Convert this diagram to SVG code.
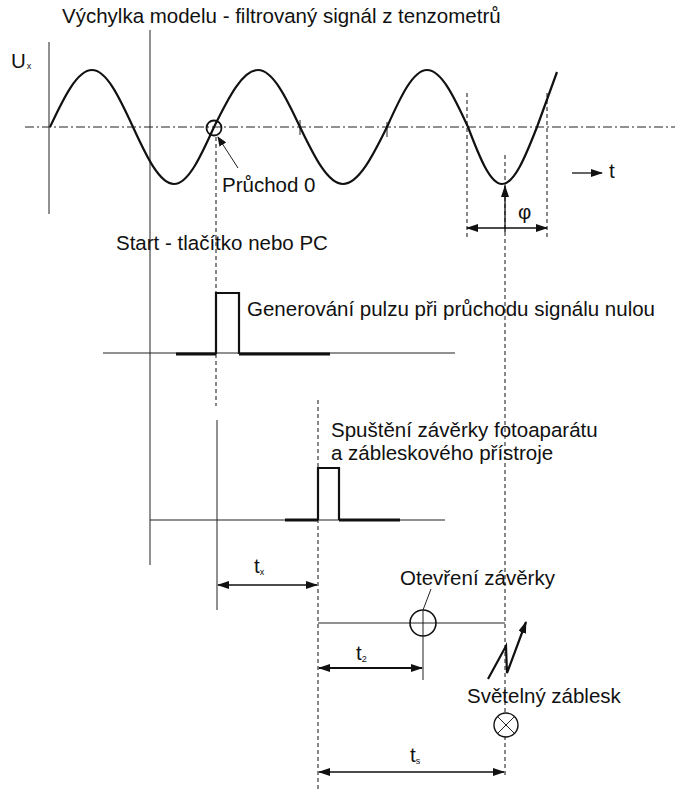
<svg xmlns="http://www.w3.org/2000/svg" width="675" height="790" viewBox="0 0 675 790">
<style>
text{font-family:"Liberation Sans",Arial,sans-serif;font-size:20.5px;fill:#111}
.sub{font-size:9px}
.thin{stroke:#222;stroke-width:1;fill:none}
.axis{stroke:#555;stroke-width:1.3;fill:none}
.dash{stroke:#111;stroke-width:1;fill:none;stroke-dasharray:4 3}
.dd{stroke:#222;stroke-width:1;fill:none;stroke-dasharray:9 3 2 3}
.sig{stroke:#111;stroke-width:2.2;fill:none}
.thick{stroke:#111;stroke-width:3;fill:none}
.arr{stroke:#111;stroke-width:1.3;fill:none;marker-end:url(#ah);marker-start:url(#ahs)}
.arr1{stroke:#111;stroke-width:1.3;fill:none;marker-end:url(#ah)}
</style>
<defs>
<marker id="ah" markerUnits="userSpaceOnUse" markerWidth="12" markerHeight="8" refX="11" refY="4" orient="auto"><path d="M0,0 L12,4 L0,8 Z" fill="#111"/></marker>
<marker id="ahs" markerUnits="userSpaceOnUse" markerWidth="12" markerHeight="8" refX="1" refY="4" orient="auto"><path d="M12,0 L0,4 L12,8 Z" fill="#111"/></marker>
<marker id="ahsm" markerUnits="userSpaceOnUse" markerWidth="10" markerHeight="8" refX="9" refY="4" orient="auto"><path d="M0,0 L10,4 L0,8 Z" fill="#111"/></marker>
</defs>
<rect width="675" height="790" fill="#fff"/>
<text x="62" y="23">Výchylka modelu - filtrovaný signál z tenzometrů</text>
<g id="axes">
<line class="axis" x1="49" y1="42" x2="49" y2="214"/>
<line class="axis" x1="150" y1="30" x2="150" y2="565"/>
<line class="dd" x1="25" y1="127" x2="675" y2="127"/>
<line class="thin" x1="300" y1="120" x2="300" y2="135"/>
<line class="thin" x1="387" y1="122" x2="387" y2="137"/>
</g>
<g id="ux-label"><text x="11" y="68">U<tspan class="sub" dy="1" dx="1">x</tspan></text></g>
<g id="signal">
<path class="sig" d="M50,127 C64,97.1 77.3,70 92,70 C106.4,70 119.3,97.1 133,127 C146.7,156.9 159.6,184 174,184 C188,184 200.6,156.9 214,127 C228.7,97.1 242.6,70 258,70 C272.7,70 286,97.1 300,127 C314.4,156.9 327.9,184 343,184 C358.4,184 372.3,156.9 387,127 C400.4,97.1 413,70 427,70 C441.4,70 454.3,97.1 468,127 C479.4,156.9 490.1,184 502,184 C514.3,184 525.3,156.9 537,127 C544,108 551,89 557,72"/>
</g>
<g id="t-axis"><line class="arr1" x1="572" y1="173" x2="602" y2="173"/><text x="609" y="178">t</text></g>
<g id="pruchod">
<circle cx="214" cy="128" r="7.5" fill="none" stroke="#111" stroke-width="1.8"/>
<line x1="238" y1="168" x2="218" y2="137" stroke="#222" stroke-width="1" marker-end="url(#ahsm)"/>
<text x="222" y="192">Průchod 0</text>
</g>
<g id="phi">
<line class="dash" x1="467" y1="93" x2="467" y2="240"/>
<line class="dash" x1="547" y1="93" x2="547" y2="240"/>
<line class="dash" x1="505" y1="155" x2="505" y2="777"/>
<line class="arr" x1="467" y1="228" x2="547" y2="228"/>
<line class="arr1" x1="505" y1="232" x2="505" y2="186"/>
<text x="518" y="219">φ</text>
</g>
<g id="start"><text x="116" y="250">Start - tlačítko nebo PC</text></g>
<g id="pulse1">
<line class="dash" x1="216" y1="137" x2="216" y2="406"/>
<line class="thin" x1="103" y1="353" x2="455" y2="353"/>
<line class="thick" x1="176" y1="354" x2="216" y2="354"/>
<path class="sig" d="M216,354 L216,293 L239,293 L239,354"/>
<line class="thick" x1="239" y1="354" x2="330" y2="354"/>
<text x="247" y="316">Generování pulzu při průchodu signálu nulou</text>
</g>
<g id="pulse2">
<line class="axis" x1="217" y1="420" x2="217" y2="610"/>
<line class="dash" x1="318" y1="400" x2="318" y2="790"/>
<line class="thin" x1="150" y1="520" x2="445" y2="520"/>
<line class="thick" x1="285" y1="520" x2="318" y2="520"/>
<path class="sig" d="M318,520 L318,468 L339,468 L339,520"/>
<line class="thick" x1="339" y1="520" x2="400" y2="520"/>
<text x="331" y="437">Spuštění závěrky fotoaparátu</text>
<text x="331" y="460">a zábleskového přístroje</text>
</g>
<g id="tx"><line class="arr" x1="218" y1="585" x2="317" y2="585"/><text x="254" y="573">t<tspan class="sub" dy="2">x</tspan></text></g>
<g id="shutter">
<text x="400" y="585">Otevření závěrky</text>
<line class="thin" x1="318" y1="623" x2="505" y2="623"/>
<circle cx="423" cy="623" r="13" fill="none" stroke="#111" stroke-width="1.6"/>
<line class="thin" x1="423" y1="610" x2="423" y2="680"/>
<line class="thin" x1="423" y1="610" x2="431" y2="589"/>
</g>
<g id="t2"><line class="arr" x1="319" y1="668" x2="422" y2="668" style="stroke-width:2"/><text x="356" y="660">t<tspan class="sub" dy="2">2</tspan></text></g>
<g id="flash">
<path d="M488,679 L506,646 L507,673 L526,622" stroke="#111" stroke-width="2.2" fill="none" marker-end="url(#ah)"/>
<text x="467" y="703">Světelný záblesk</text>
<circle cx="506" cy="725" r="12" fill="#fff" stroke="#111" stroke-width="1.4"/>
<line class="thin" x1="497.5" y1="716.5" x2="514.5" y2="733.5"/>
<line class="thin" x1="514.5" y1="716.5" x2="497.5" y2="733.5"/>
</g>
<g id="ts"><line class="arr" x1="319" y1="772" x2="504" y2="772"/><text x="410" y="762">t<tspan class="sub" dy="2">s</tspan></text></g>
</svg>
